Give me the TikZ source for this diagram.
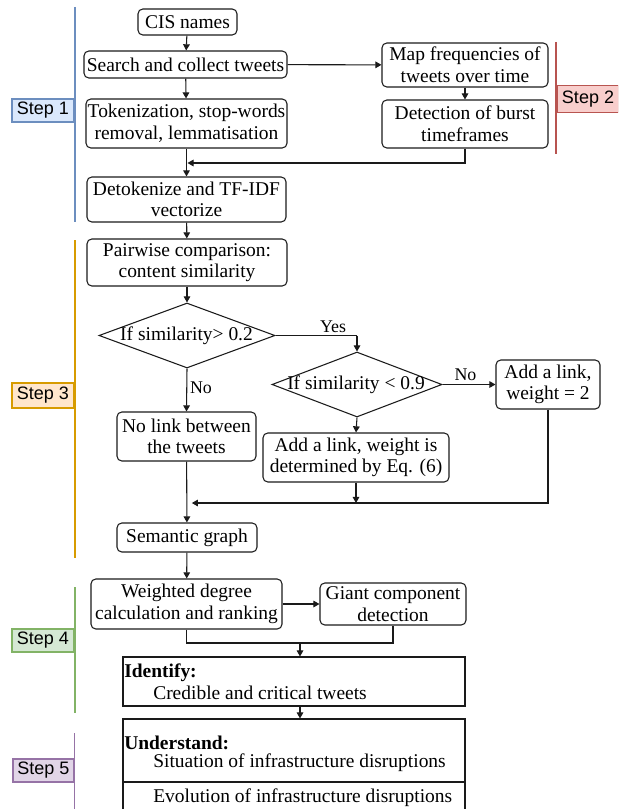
\documentclass[tikz,border=0pt]{standalone}
\usepackage{fontspec}
\setmainfont{Liberation Serif}
\setsansfont{Liberation Sans}
\usetikzlibrary{shapes.geometric,arrows.meta}

% step tag colours
\definecolor{blueF}{HTML}{DAE8FC}\definecolor{blueD}{HTML}{6C8EBF}
\definecolor{redF}{HTML}{F8CECC}\definecolor{redD}{HTML}{B85450}
\definecolor{orangeF}{HTML}{FFE6CC}\definecolor{orangeD}{HTML}{D79B00}
\definecolor{greenF}{HTML}{D5E8D4}\definecolor{greenD}{HTML}{82B366}
\definecolor{purpleF}{HTML}{E1D5E7}\definecolor{purpleD}{HTML}{9673A6}
\definecolor{ink}{HTML}{1A1A1A}

\newcommand\mainfs{\fontsize{14.6pt}{16.2pt}\selectfont}
\newcommand\labfs{\fontsize{13.4pt}{15pt}\selectfont}
\newcommand\tagfs{\sffamily\fontsize{13.5pt}{15pt}\selectfont}

\tikzset{
  sz/.style 2 args={minimum width=#1*0.75pt, minimum height=#2*0.75pt},
  flow/.style={draw=ink, rounded corners=3.6pt, align=center, inner sep=0pt,
               font=\mainfs, line width=0.8pt},
  plainbox/.style={draw=ink, inner sep=0pt, line width=0.8pt},
  decide/.style={draw=ink, diamond, inner sep=0pt, line width=0.8pt},
  txt/.style={inner sep=0pt, font=\mainfs},
  edgetext/.style={inner sep=0pt, font=\labfs},
  link/.style={draw=ink, line width=0.8pt, -{Triangle[length=4.6pt,width=5pt]}},
  wire/.style={draw=ink, line width=0.8pt},
  steptag/.style={draw, inner sep=0pt, font=\tagfs, line width=0.8pt},
  stepline/.style={line width=1.1pt}
}

\begin{document}
\begin{tikzpicture}[x=0.75pt,y=-0.75pt]
\useasboundingbox (0,0) rectangle (618,809);
\clip (0,0) rectangle (618,809);

% ---- step 1 / step 2 : collection and bursts
\node[flow, sz={99}{26}]  (cis)   at (187.5,22)  {CIS names};
\node[flow, sz={203}{27}] (search) at (185.5,64.5) {Search and collect tweets};
\node[flow, sz={201}{49}] (tok)   at (186.5,123.5) {Tokenization, stop-words\\removal, lemmatisation};
\node[flow, sz={199}{45}] (detok) at (186.5,199.5) {Detokenize and TF-IDF\\vectorize};
\node[flow, sz={166}{44}] (map)   at (465,65)  {Map frequencies of\\tweets over time};
\node[flow, sz={166}{48}] (burst) at (465,124) {Detection of burst\\timeframes};
\coordinate (j1) at (187.5,163);

\draw[link] (cis) -- (search);
\draw[link] (search) -- (tok);
\draw[link] (search) -- (map);
\draw[link] (map) -- (burst);
\draw[link] (burst.south) |- (j1);
\draw[link] (tok) -- (detok);

% ---- step 3 : similarity graph
\node[flow, sz={200}{47}] (pair) at (187,262.5) {Pairwise comparison:\\content similarity};
\node[decide, sz={176}{65}] (d1) at (187,335.5) {};
\node[txt] (d1t) at (186.5,336) {If similarity> 0.2};
\node[decide, sz={170}{65}] (d2) at (357,384.5) {};
\node[txt] (d2t) at (356,384.5) {If similarity < 0.9};
\node[flow, sz={139}{49}] (nolink) at (186.5,436.5) {No link between\\the tweets};
\node[flow, sz={186}{49}] (addeq)  at (356,457.5) {Add a link, weight is\\determined by Eq. (6)};
\node[flow, sz={104}{49}] (add2)   at (548,384.5) {Add a link,\\weight = 2};
\node[flow, sz={140}{29}] (sem)    at (187,537.5) {Semantic graph};
\coordinate (yes) at (357,335.5);
\coordinate (m1) at (186.5,503);

\draw[link] (detok) -- (pair);
\draw[link] (pair) -- (d1);
\draw[wire] (d1.east) -- (yes);
\draw[link] (yes) -- (d2.north);
\node[edgetext] (lyes) at (333,327) {Yes};
\draw[link] (d1.south) -- (nolink.north);
\node[edgetext] (lno1) at (201,388) {No};
\draw[link] (d2.east) -- (add2.west);
\node[edgetext] (lno2) at (465.5,375) {No};
\draw[link] (d2.south) -- (addeq.north);
\draw[link] (add2.south) |- ([xshift=4pt]m1);
\draw[link] (addeq.south) -- (addeq.south |- m1);
\draw[link] (nolink) -- (sem);

% ---- step 4 / step 5 : ranking and outcomes
\node[flow, sz={191}{50}] (wdeg)  at (186.5,604) {Weighted degree\\calculation and ranking};
\node[flow, sz={146}{42}] (giant) at (393,604) {Giant component\\detection};
\node[plainbox, sz={342}{49}] (idf) at (294,681.5) {};
\node[plainbox, sz={342}{63}] (und) at (294,750.5) {};
\node[plainbox, sz={342}{40}] (evo) at (294,802) {};
\coordinate (j4) at (393,643);
\coordinate (j5) at (300,643);

\draw[link] (sem) -- (wdeg);
\draw[link] (wdeg) -- (giant);
\draw[wire] (wdeg.south) |- (j4) -- (giant.south);
\draw[link] (j5) -- (j5 |- idf.north);
\draw[link] (idf.south -| j5) -- (j5 |- und.north);

\node[txt, anchor=west] (idfh) at (124,673) {\textbf{Identify:}};
\node[txt, anchor=west] (idfa) at (153,693) {Credible and critical tweets};
\node[txt, anchor=west] (undh) at (124,743) {\textbf{Understand:}};
\node[txt, anchor=west] (unda) at (153,763) {Situation of infrastructure disruptions};
\node[txt, anchor=west] (evoa) at (153,798) {Evolution of infrastructure disruptions};

% ---- step brackets and tags
\draw[stepline, blueD]   (75,7) -- (75,222);
\node[steptag, draw=blueD, fill=blueF, sz={62}{23}] (s1) at (43,110.5) {Step 1};
\draw[stepline, redD]    (556,42) -- (556,154);
\node[steptag, draw=redD, fill=redF, sz={62}{27}] (s2) at (588,99) {Step 2};
\draw[stepline, orangeD] (75,240) -- (75,558);
\node[steptag, draw=orangeD, fill=orangeF, sz={62}{25}] (s3) at (43,395.5) {Step 3};
\draw[stepline, greenD]  (75,587) -- (75,713);
\node[steptag, draw=greenD, fill=greenF, sz={62}{23}] (s4) at (43,640.5) {Step 4};
\draw[stepline, purpleD] (74.5,733) -- (74.5,812);
\node[steptag, draw=purpleD, fill=purpleF, sz={61}{23}] (s5) at (43.5,770.5) {Step 5};
\end{tikzpicture}
\end{document}
